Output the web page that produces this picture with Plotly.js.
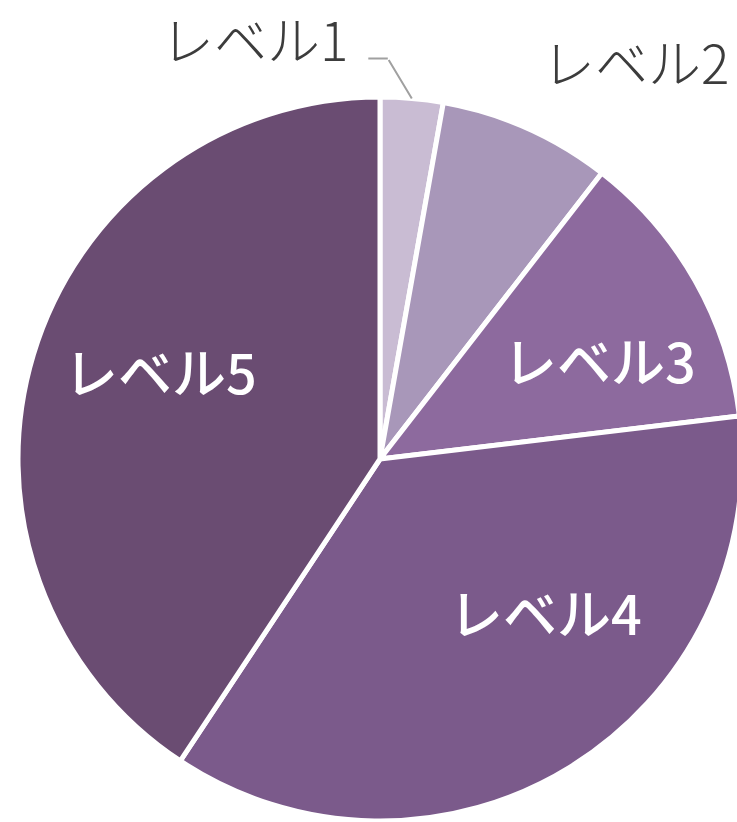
<!DOCTYPE html>
<html>
<head>
<meta charset="utf-8">
<script src="https://cdn.plot.ly/plotly-3.0.1.min.js"></script>
<style>
  html, body { margin: 0; padding: 0; overflow: hidden; background: #fff; }
  #chart { width: 745px; height: 822px; }
</style>
</head>
<body>
<div id="chart"></div>
<script>
// Data
const labels = ["レベル1", "レベル2", "レベル3", "レベル4", "レベル5"];
const values = [2.8, 7.7, 12.6, 36.2, 40.7];
const colors = ["#c9bcd3", "#a897b9", "#8d6a9e", "#7b5a8b", "#6a4c72"];

const FONT = '"Noto Sans CJK JP", "Noto Sans", sans-serif';

// mid-angle of each slice (clockwise from 12 o'clock), used to anchor the labels
const total = values.reduce((a, b) => a + b, 0);
let cum = 0;
const mids = values.map(v => { const m = (cum + v / 2) / total * 2 * Math.PI; cum += v; return m; });
const at = (i, f) => ({ x: 0.5 + 0.5 * f * Math.sin(mids[i]), y: 0.5 + 0.5 * f * Math.cos(mids[i]) });

const trace = {
  type: "pie",
  labels: labels,
  values: values,
  sort: false,
  direction: "clockwise",
  rotation: 0,
  marker: { colors: colors, line: { color: "#ffffff", width: 5 } },
  textposition: "none",
  hoverinfo: "label+percent",
  showlegend: false,
  domain: { x: [0, 1], y: [0, 1] }
};

const outFont = { family: FONT, size: 53, color: "#3c3c3c", weight: 300 };
const inFont = { family: FONT, size: 54, color: "#ffffff", weight: 500 };
const lineColor = "#a0a0a0";

// label style offsets (pixels) from the anchor point of each slice
const inside = [
  { i: 2, dx: 21, dy: -13 },
  { i: 3, dx: 46, dy: 42 },
  { i: 4, dx: -1, dy: 23 }
];

const r1 = at(0, 1), r2 = at(1, 1);
const annotations = [
  // Level 1 label (left of its leader line)
  { xref: "paper", yref: "paper", x: r1.x, y: r1.y, text: labels[0],
    showarrow: false, xanchor: "right", yanchor: "middle", xshift: -63, yshift: 60, borderpad: 0, font: outFont },
  // leader line: diagonal part
  { xref: "paper", yref: "paper", x: r1.x, y: r1.y, text: "",
    showarrow: true, arrowhead: 0, arrowwidth: 2, arrowcolor: lineColor, ax: -24, ay: -40, standoff: 0 },
  // leader line: horizontal part
  { xref: "paper", yref: "paper", x: r1.x, y: r1.y, text: "", xshift: -24, yshift: 40,
    showarrow: true, arrowhead: 0, arrowwidth: 2, arrowcolor: lineColor, ax: -21, ay: 0, standoff: 0 },
  // Level 2 label
  { xref: "paper", yref: "paper", x: r2.x, y: r2.y, text: labels[1],
    showarrow: false, xanchor: "center", yanchor: "middle", xshift: 109, yshift: 67, borderpad: 0, font: outFont }
].concat(inside.map(o => {
  const p = at(o.i, 0.63);
  return { xref: "paper", yref: "paper", x: p.x, y: p.y, text: labels[o.i],
    showarrow: false, xanchor: "center", yanchor: "middle", xshift: o.dx, yshift: o.dy, font: inFont };
}));

const layout = {
  width: 745,
  height: 822,
  margin: { l: 18, r: 3, t: 97, b: 1, pad: 0 },
  paper_bgcolor: "#ffffff",
  plot_bgcolor: "#ffffff",
  annotations: annotations,
  font: { family: FONT }
};

Plotly.newPlot("chart", [trace], layout, { displayModeBar: false, staticPlot: true });
</script>
</body>
</html>
